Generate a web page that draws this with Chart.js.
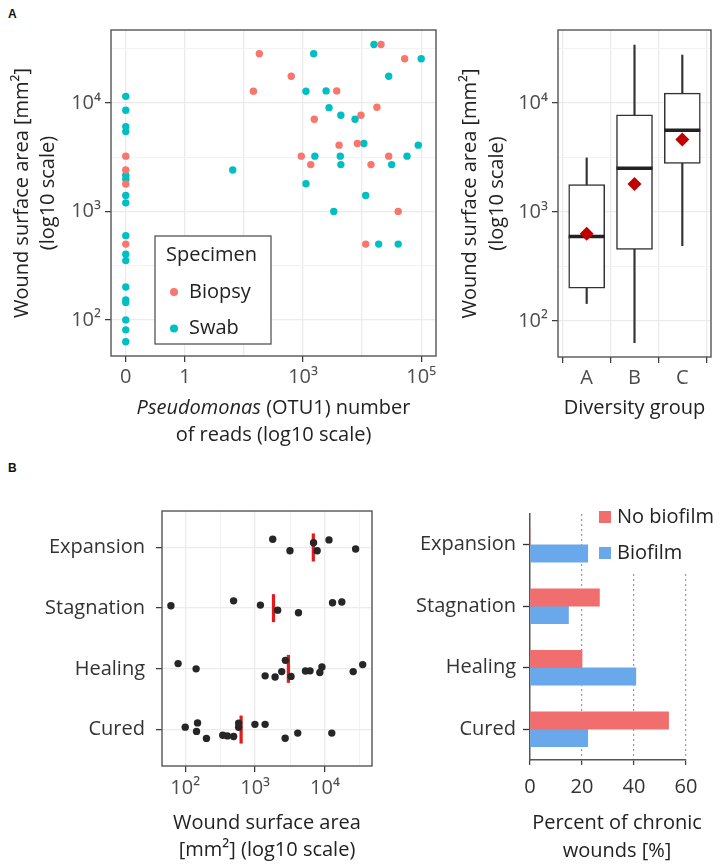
<!DOCTYPE html>
<html>
<head>
<meta charset="utf-8">
<script src="https://cdn.jsdelivr.net/npm/chart.js@4.4.1/dist/chart.umd.min.js"></script>
<style>
  body { margin: 0; width: 722px; height: 867px; position: relative; background: #fff; overflow: hidden; }
  canvas { position: absolute; }
  .panel-tag { position: absolute; font: bold 12px 'Liberation Sans', Arial, sans-serif; color: #111; }
</style>
</head>
<body>
<div class="panel-tag" style="left:8px;top:7px">A</div>
<div class="panel-tag" style="left:8px;top:461px">B</div>
<canvas id="scatterA" width="445" height="450" style="left:0;top:0"></canvas>
<canvas id="boxA" width="277" height="450" style="left:445px;top:0"></canvas>
<canvas id="dotsB" width="380" height="407" style="left:0;top:460px"></canvas>
<canvas id="barsB" width="342" height="407" style="left:380px;top:460px"></canvas>
<script>
// ---- panel A, left: wound area vs Pseudomonas reads (x already on log10 scale)
const biopsyLogReads = [0, 0, 0, 0, 2.26, 2.80, 2.16, 3.57, 3.19, 3.61, 2.97, 3.13, 3.92, 3.98, 4.32, 4.72, 4.25, 4.45, 4.15, 4.61, 4.06];
const biopsyArea     = [3230, 2410, 1790, 500, 28400, 17600, 12800, 12900, 7070, 4080, 3230, 2700, 4220, 7700, 34500, 25500, 9120, 3230, 2700, 1000, 500];
const swabLogReads = [0, 0, 0, 0, 0, 0, 0, 0, 0, 0, 0, 0, 0, 0, 0, 0, 0,
  3.18, 3.05, 3.39, 3.44, 3.64, 3.88, 3.20, 3.63, 3.64, 1.81, 3.05, 3.52, 4.20, 5.0, 4.45, 4.03, 4.76, 4.95, 4.50, 4.06, 4.28, 4.61];
const swabArea = [11500, 8570, 6050, 5440, 2160, 1980, 1400, 1200, 598, 403, 352, 201, 153, 145, 100, 81, 63,
  28400, 12800, 12900, 9050, 7700, 7070, 3230, 3230, 2700, 2410, 1800, 1000, 34500, 25500, 17600, 4220, 3230, 4080, 2700, 1400, 500, 500];
const readGridValues = [0, 1, 2, 3, 4, 5];
const readTickLabels = ['0', '1', '', '10³', '', '10⁵'];

// shared wound-area axis
const areaMin = 46.5, areaMax = 47000;
const areaTickValues = [100, 1000, 10000];
const areaTickLabels = ['10²', '10³', '10⁴'];
const areaGridValues = [100, 316.2, 1000, 3162, 10000, 31623];

// ---- panel A, right: box plot by diversity group
const diversityGroups = ['A', 'B', 'C'];
const whiskerLow  = [144, 63, 490];
const boxQ1       = [199, 454, 2790];
const boxMedian   = [594, 2520, 5640];
const boxQ3       = [1786, 7800, 12360];
const whiskerHigh = [3140, 34200, 27700];
const groupMean   = [631, 1810, 4640];

// ---- panel B, left: wound area per healing stage
const stages = ['Expansion', 'Stagnation', 'Healing', 'Cured'];
const stageArea = [
  [1786, 3150, 6850, 7720, 11400, 27400],
  [62.4, 492, 1190, 2100, 4170, 12800, 17400],
  [79, 143, 1390, 1930, 2400, 2710, 3260, 5250, 6100, 8430, 9030, 25300, 34600],
  [100, 150, 145, 201, 344, 401, 492, 581, 581, 993, 1390, 2690, 4070, 12500]
];
const stageJitter = [
  [0.135, -0.055, 0.077, -0.055, 0.124, -0.025],
  [0.04, 0.12, 0.05, -0.033, -0.076, 0.09, 0.10],
  [0.087, 0, -0.115, -0.135, -0.045, 0.14, -0.124, -0.036, -0.033, -0.06, 0.03, -0.045, 0.07],
  [0.04, 0.11, -0.03, -0.145, -0.094, -0.104, -0.115, 0.107, 0.038, 0.086, 0.086, -0.143, -0.058, -0.058]
];
const stageMedian = [6800, 1830, 2990, 630];

// ---- panel B, right: percent of chronic wounds
const noBiofilm = [0, 26.7, 20, 53.3];
const biofilm   = [22.2, 14.8, 40.7, 22.2];
const percentTicks = [0, 20, 40, 60];

Chart.defaults.font.family = "'Open Sans', sans-serif";
Chart.defaults.font.size = 20;
Chart.defaults.color = '#4d4d4d';
Chart.defaults.animation = false;
Chart.defaults.responsive = false;
Chart.defaults.layout.autoPadding = false;
Chart.defaults.plugins.legend.display = false;
Chart.defaults.plugins.tooltip.enabled = false;

const framePlugin = {
  id: 'frame',
  afterDatasetsDraw(chart) {
    const { ctx, chartArea: a } = chart;
    ctx.save();
    ctx.strokeStyle = '#555';
    ctx.lineWidth = 1.4;
    ctx.strokeRect(a.left, a.top, a.right - a.left, a.bottom - a.top);
    ctx.restore();
  }
};

// free text lines (used for titles that need italics or an off-centre position)
const textLines = {
  id: 'textLines',
  afterDraw(chart, args, opts) {
    const ctx = chart.ctx;
    ctx.save();
    ctx.fillStyle = '#222';
    ctx.textBaseline = 'middle';
    (opts.lines || []).forEach(line => {
      const parts = line.parts;
      let total = 0;
      parts.forEach(p => { ctx.font = (p.italic ? 'italic ' : '') + "20px 'Open Sans'"; p.w = ctx.measureText(p.text).width; total += p.w; });
      let x = line.x - total / 2;
      parts.forEach(p => {
        ctx.font = (p.italic ? 'italic ' : '') + "20px 'Open Sans'";
        ctx.fillText(p.text, x, line.y);
        x += p.w;
      });
    });
    ctx.restore();
  }
};

const isAreaMajor = c => c.tick && areaTickValues.includes(c.tick.value);

function areaScale(extra) {
  return Object.assign({
    type: 'logarithmic',
    min: areaMin,
    max: areaMax,
    afterBuildTicks: s => { s.ticks = areaGridValues.map(v => ({ value: v })); },
    ticks: {
      autoSkip: false, maxRotation: 0, padding: 4, color: '#4d4d4d',
      callback: v => { const i = areaTickValues.indexOf(v); return i < 0 ? '' : areaTickLabels[i]; }
    },
    grid: {
      color: c => isAreaMajor(c) ? '#EBEBEB' : '#F2F2F2',
      lineWidth: c => isAreaMajor(c) ? 1.3 : 1,
      tickLength: 6,
      tickWidth: 1.2,
      tickColor: c => isAreaMajor(c) ? '#333' : 'rgba(0,0,0,0)'
    },
    border: { display: false }
  }, extra);
}

// ---------- A left
const specimenLegend = {
  id: 'specimenLegend',
  afterDraw(chart) {
    const ctx = chart.ctx;
    ctx.save();
    ctx.fillStyle = '#fff';
    ctx.strokeStyle = '#555';
    ctx.lineWidth = 1.3;
    ctx.fillRect(155, 236, 116, 108);
    ctx.strokeRect(155, 236, 116, 108);
    ctx.font = "20px 'Open Sans'";
    ctx.textBaseline = 'middle';
    ctx.fillStyle = '#222';
    ctx.fillText('Specimen', 166, 255);
    chart.data.datasets.forEach((d, i) => {
      const y = 292 + i * 36.5;
      ctx.beginPath();
      ctx.arc(174, y, 4, 0, Math.PI * 2);
      ctx.fillStyle = d.backgroundColor;
      ctx.fill();
      ctx.fillStyle = '#222';
      ctx.fillText(d.label, 189, y);
    });
    ctx.restore();
  }
};

new Chart(document.getElementById('scatterA'), {
  type: 'scatter',
  data: {
    datasets: [
      { label: 'Biopsy', data: biopsyLogReads.map((x, i) => ({ x, y: biopsyArea[i] })),
        backgroundColor: '#F8766D', borderWidth: 0, pointRadius: 3.7 },
      { label: 'Swab', data: swabLogReads.map((x, i) => ({ x, y: swabArea[i] })),
        backgroundColor: '#00BFC4', borderWidth: 0, pointRadius: 3.7 }
    ]
  },
  options: {
    layout: { padding: { top: 30, right: 9, left: 0, bottom: 0 } },
    scales: {
      x: {
        type: 'linear', min: -0.25, max: 5.25,
        afterBuildTicks: s => { s.ticks = readGridValues.map(v => ({ value: v })); },
        afterFit: s => { s.height = 94; },
        ticks: { autoSkip: false, maxRotation: 0, padding: 3, color: '#4d4d4d',
          callback: v => readTickLabels[readGridValues.indexOf(v)] },
        grid: {
          color: '#EBEBEB', lineWidth: 1.3, tickLength: 6, tickWidth: 1.2,
          tickColor: c => c.tick && readTickLabels[readGridValues.indexOf(c.tick.value)] ? '#333' : 'rgba(0,0,0,0)'
        },
        border: { display: false }
      },
      y: areaScale({
        afterFit: s => { s.width = 111; },
        title: { display: true, text: ['Wound surface area [mm²]', '(log10 scale)'], color: '#222',
          font: { size: 20, lineHeight: 1.3 }, padding: { top: 9, bottom: 0 } }
      })
    },
    plugins: {
      textLines: { lines: [
        { x: 273.5, y: 408, parts: [{ text: 'Pseudomonas', italic: true }, { text: ' (OTU1) number' }] },
        { x: 273.5, y: 435, parts: [{ text: 'of reads (log10 scale)' }] }
      ] }
    }
  },
  plugins: [framePlugin, specimenLegend, textLines]
});

// ---------- A right
const groupPos = diversityGroups.map((g, i) => i + 1);
new Chart(document.getElementById('boxA'), {
  type: 'bar',
  data: {
    datasets: [
      { type: 'scatter', label: 'Mean', order: 1,
        data: groupPos.map((x, i) => ({ x, y: groupMean[i] })),
        pointStyle: 'rectRot', pointRadius: 7, pointBackgroundColor: '#C00000', pointBorderWidth: 0 },
      { type: 'scatter', label: 'Median', order: 2,
        data: groupPos.map((x, i) => ({ x, y: boxMedian[i] })),
        pointStyle: 'line', pointRadius: 18, pointBorderColor: '#222', pointBorderWidth: 3.5 },
      { type: 'bar', label: 'IQR', order: 3, grouped: false,
        data: groupPos.map((x, i) => ({ x, y: [boxQ1[i], boxQ3[i]] })),
        backgroundColor: '#fff', borderColor: '#333', borderWidth: 1.5, borderSkipped: false, barThickness: 36 },
      { type: 'bar', label: 'Whisker', order: 4, grouped: false,
        data: groupPos.map((x, i) => ({ x, y: [whiskerLow[i], whiskerHigh[i]] })),
        backgroundColor: '#333', borderWidth: 0, barThickness: 1.5 }
    ]
  },
  options: {
    layout: { padding: { top: 30, right: 11, left: 0, bottom: 0 } },
    scales: {
      x: {
        type: 'linear', min: 0.4, max: 3.6, offset: false,
        afterBuildTicks: s => { s.ticks = groupPos.map(v => ({ value: v })); },
        afterFit: s => { s.height = 93; },
        ticks: { autoSkip: false, maxRotation: 0, padding: 3, color: '#4d4d4d', callback: v => diversityGroups[v - 1] },
        grid: { color: '#EBEBEB', lineWidth: 1.3, tickLength: 6, tickWidth: 1.2, tickColor: '#333' },
        border: { display: false },
        title: { display: true, text: 'Diversity group', color: '#222', font: { size: 20, lineHeight: 1.3 }, padding: { top: 0, bottom: 29 } }
      },
      y: areaScale({
        afterFit: s => { s.width = 113; },
        title: { display: true, text: ['Wound surface area [mm²]', '(log10 scale)'], color: '#222',
          font: { size: 20, lineHeight: 1.35 }, padding: { top: 12, bottom: 0 } }
      })
    }
  },
  plugins: [framePlugin]
});

// ---------- B left
const dotData = [];
stageArea.forEach((vals, s) => vals.forEach((v, j) => dotData.push({ x: v, y: s + 1 - stageJitter[s][j] })));
const stagePos = stages.map((s, i) => i + 1);
new Chart(document.getElementById('dotsB'), {
  type: 'scatter',
  data: {
    datasets: [
      { label: 'Wounds', order: 1, data: dotData, pointRadius: 3.7, pointBackgroundColor: '#262626', pointBorderWidth: 0 },
      { label: 'Median', order: 2, data: stagePos.map((y, i) => ({ x: stageMedian[i], y })),
        pointStyle: 'line', pointRotation: 90, pointRadius: 14, pointBorderColor: '#E41A1C', pointBorderWidth: 3.2 }
    ]
  },
  options: {
    layout: { padding: { top: 51, right: 8, left: 0, bottom: 0 } },
    scales: {
      x: areaScale({
        afterFit: s => { s.height = 101; },
        title: { display: true, text: ['Wound surface area', '[mm²] (log10 scale)'], color: '#222',
          font: { size: 20, lineHeight: 1.35 }, padding: { top: 0, bottom: 3.5 } }
      }),
      y: {
        type: 'linear', min: 0.4, max: 4.6, reverse: true,
        afterBuildTicks: s => { s.ticks = stagePos.map(v => ({ value: v })); },
        afterFit: s => { s.width = 162; },
        ticks: { autoSkip: false, padding: 11, color: '#333', callback: v => stages[v - 1] },
        grid: { color: '#EBEBEB', lineWidth: 1.3, tickLength: 6, tickWidth: 1.2, tickColor: '#333' },
        border: { display: false }
      }
    }
  },
  plugins: [framePlugin]
});

// ---------- B right
const biofilmLegend = {
  id: 'biofilmLegend',
  afterDraw(chart) {
    const ctx = chart.ctx;
    ctx.save();
    ctx.fillStyle = '#fff';
    ctx.fillRect(212, 45, 130, 69);
    ctx.font = "20px 'Open Sans'";
    ctx.textBaseline = 'middle';
    chart.data.datasets.forEach((d, i) => {
      const y = 57 + i * 36;
      ctx.fillStyle = d.backgroundColor;
      ctx.fillRect(219, y - 6, 12, 12);
      ctx.fillStyle = '#222';
      ctx.fillText(d.label, 237, y);
    });
    ctx.restore();
  }
};

new Chart(document.getElementById('barsB'), {
  type: 'bar',
  data: {
    labels: stages,
    datasets: [
      { label: 'No biofilm', data: noBiofilm, backgroundColor: '#F06E6E', barThickness: 17.5 },
      { label: 'Biofilm', data: biofilm, backgroundColor: '#6AA8EC', barThickness: 17.5 }
    ]
  },
  options: {
    indexAxis: 'y',
    layout: { padding: { top: 54, right: 36, left: 0, bottom: 0 } },
    scales: {
      x: {
        type: 'linear', min: 0, max: 60,
        afterBuildTicks: s => { s.ticks = percentTicks.map(v => ({ value: v })); },
        afterFit: s => { s.height = 107; },
        ticks: { padding: 10, color: '#333' },
        grid: {
          color: c => c.tick && c.tick.value === 0 ? 'rgba(0,0,0,0)' : '#9a9a9a',
          lineWidth: 1.2, tickLength: 5, tickWidth: 1.3, tickColor: '#444'
        },
        border: { display: true, color: '#555', width: 1.5, dash: [2, 3] }
      },
      y: {
        afterFit: s => { s.width = 150; },
        ticks: { padding: 7, color: '#333' },
        grid: { drawOnChartArea: false, offset: false, tickLength: 7, tickWidth: 1.3, tickColor: '#333' },
        border: { display: true, color: '#555', width: 1.5 }
      }
    },
    plugins: {
      textLines: { lines: [
        { x: 237, y: 363, parts: [{ text: 'Percent of chronic' }] },
        { x: 237, y: 391, parts: [{ text: 'wounds [%]' }] }
      ] }
    }
  },
  plugins: [biofilmLegend, textLines]
});
</script>
</body>
</html>
